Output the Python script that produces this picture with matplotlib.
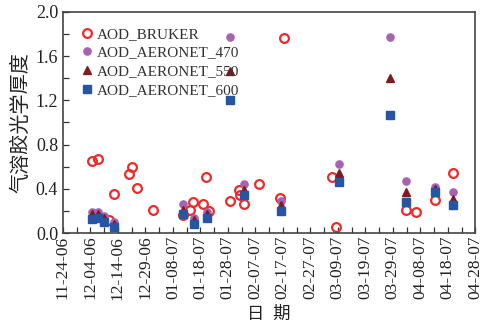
import numpy as np
import matplotlib
matplotlib.use('Agg')
import matplotlib.pyplot as plt
from matplotlib.ticker import MultipleLocator

plt.rcParams['font.family'] = ['Liberation Serif', 'Noto Sans CJK SC']

# days counted from 11-24-06
bruker_day = [10.5, 12.7, 16.7, 18.4, 24.0, 25.1, 27.0, 32.9, 43.6, 46.4, 47.4,
              51.1, 52.2, 53.3, 60.9, 63.9, 64.5, 65.7, 71.4, 79.0, 80.3, 97.7,
              99.4, 124.7, 128.5, 135.3, 142.0]
bruker_aod = [0.65, 0.67, 0.12, 0.35, 0.53, 0.60, 0.41, 0.21, 0.16, 0.21, 0.28,
              0.26, 0.51, 0.20, 0.29, 0.39, 0.34, 0.26, 0.44, 0.32, 1.76, 0.51,
              0.05, 0.21, 0.19, 0.30, 0.54]

aeronet_day = [10.5, 12.6, 14.9, 18.5, 43.7, 47.5, 52.3, 60.9, 65.7, 79.3,
               100.5, 119.1, 124.9, 135.4, 142.0]
aod_470 = [0.19, 0.19, 0.15, 0.10, 0.26, 0.14, 0.19, 1.77, 0.44, 0.29,
           0.62, 1.77, 0.47, 0.42, 0.37]
aod_550 = [0.17, 0.17, 0.14, 0.08, 0.21, 0.12, 0.17, 1.47, 0.39, 0.25,
           0.54, 1.40, 0.37, 0.40, 0.31]
aod_600 = [0.13, 0.14, 0.10, 0.05, 0.17, 0.08, 0.14, 1.20, 0.34, 0.20,
           0.46, 1.07, 0.28, 0.37, 0.25]

tick_days = list(range(0, 151, 10))
tick_labels = ['11-24-06', '12-04-06', '12-14-06', '12-29-06', '01-08-07',
               '01-18-07', '01-28-07', '02-07-07', '02-17-07', '02-27-07',
               '03-09-07', '03-19-07', '03-29-07', '04-08-07', '04-18-07',
               '04-28-07']

fig = plt.figure(figsize=(4.84, 3.31), dpi=100)
ax = fig.add_axes([0.130, 0.296, 0.852, 0.668])

ax.plot(bruker_day, bruker_aod, 'o', mfc='none', mec='#ee2a2a', mew=1.6,
        ms=6.3, label='AOD_BRUKER', zorder=2)
ax.plot(aeronet_day, aod_470, 'o', color='#a862b4', ms=5.2,
        label='AOD_AERONET_470', zorder=3)
ax.plot(aeronet_day, aod_550, '^', color='#7d1c20', ms=6.2,
        label='AOD_AERONET_550', zorder=4)
ax.plot(aeronet_day, aod_600, 's', color='#2456a4', ms=5.4,
        label='AOD_AERONET_600', zorder=5)

ax.set_xlim(0, 150)
ax.set_ylim(0, 2.0)
ax.set_xticks(tick_days)
ax.set_xticklabels(tick_labels, rotation=90, fontsize=12.5, color='#222222')
ax.xaxis.set_minor_locator(MultipleLocator(5))
ax.yaxis.set_major_locator(MultipleLocator(0.4))
ax.yaxis.set_minor_locator(MultipleLocator(0.2))
ax.set_yticklabels(['%.1f' % v for v in ax.get_yticks()], fontsize=13,
                   color='#222222')
ax.tick_params(which='both', direction='in', color='#333333')
ax.tick_params(which='major', length=4, width=0.9)
ax.tick_params(which='minor', length=4, width=0.9)
ax.tick_params(axis='x', pad=2)
for s in ax.spines.values():
    s.set_color('#444444')
    s.set_linewidth(1.2)

ax.set_ylabel('气溶胶光学厚度', fontsize=14.5, labelpad=3, color='#222222')
ax.set_xlabel('日  期', fontsize=12.5, labelpad=5, color='#222222')

leg = ax.legend(loc='upper left', frameon=False, fontsize=11,
                handletextpad=0.0, handlelength=1.2, labelspacing=0.33,
                borderaxespad=0.7, borderpad=0.3, markerscale=1.0)
for t in leg.get_texts():
    t.set_color('#333333')

fig.savefig('out.png', dpi=100)
